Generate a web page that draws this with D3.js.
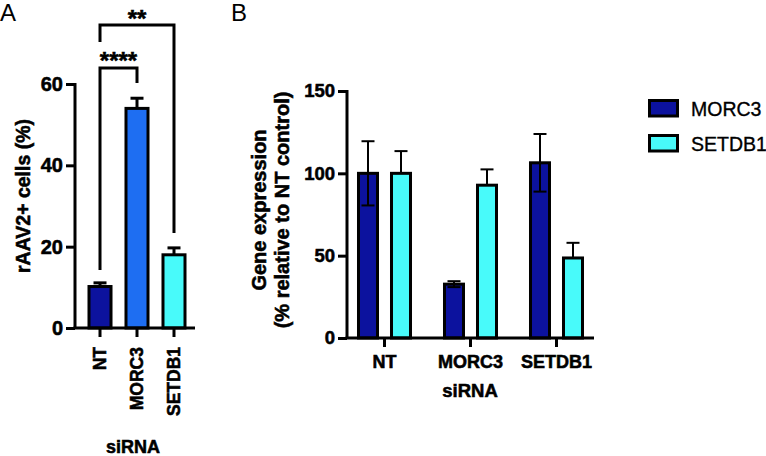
<!DOCTYPE html>
<html><head><meta charset="utf-8">
<script src="https://cdn.jsdelivr.net/npm/d3@7"></script>
<style>
body{margin:0;background:#fff}
text{font-family:"Liberation Sans",Arial,Helvetica,sans-serif;fill:#000}
.heavy{font-weight:bold;stroke:#000;stroke-width:0.55px;paint-order:stroke}
</style>
</head><body><svg id="c" width="766" height="456"></svg>
<script>
// ---- Panel A data ----
const aCategories = ["NT", "MORC3", "SETDB1"];
const aValues = [10.2, 54.0, 18.0];
const aErrors = [0.9, 2.5, 1.7];
const aColors = ["#0c129e", "#1e6ef2", "#48fafa"];
const aTicks = [0, 20, 40, 60];
const significance = [
  {from: "NT", to: "MORC3", label: "****"},
  {from: "NT", to: "SETDB1", label: "**"}
];
// ---- Panel B data ----
const bGroups = ["NT", "MORC3", "SETDB1"];
const bSeries = ["MORC3", "SETDB1"];
const bMORC3 = [100, 32.7, 106.4];
const bMORC3Err = [19.5, 1.8, 17.5];
const bSETDB1 = [100, 92.8, 48.6];
const bSETDB1Err = [13.5, 9.6, 9.2];
const bColors = ["#0c129e", "#48fafa"];
const bTicks = [0, 50, 100, 150];

const svg = d3.select("#c");
const FONT = '"Liberation Sans",Arial,Helvetica,sans-serif';

// ================= Panel A =================
const gA = svg.append("g");
const yA = d3.scaleLinear().domain([0, 60]).range([328, 84]);
const xA = d3.scaleBand().domain(aCategories).range([81.5, 192.5]).paddingInner(0.405).paddingOuter(0.2027);

gA.append("text").attr("x", 0).attr("y", 21).style("font-size", "24px").text("A");

aCategories.forEach((c, i) => {
  const cx = xA(c) + xA.bandwidth() / 2;
  gA.append("line").attr("x1", cx).attr("x2", cx).attr("y1", yA(aValues[i])).attr("y2", yA(aValues[i] + aErrors[i]))
    .attr("stroke", "#000").attr("stroke-width", 3);
  gA.append("line").attr("x1", cx - 6.5).attr("x2", cx + 6.5).attr("y1", yA(aValues[i] + aErrors[i])).attr("y2", yA(aValues[i] + aErrors[i]))
    .attr("stroke", "#000").attr("stroke-width", 3);
});
gA.selectAll("rect.bar").data(aCategories).join("rect").attr("class", "bar")
  .attr("x", d => xA(d)).attr("width", xA.bandwidth())
  .attr("y", (d, i) => yA(aValues[i])).attr("height", (d, i) => yA(0) - yA(aValues[i]))
  .attr("fill", (d, i) => aColors[i]).attr("stroke", "#000").attr("stroke-width", 3);

const axA = gA.append("g").attr("transform", "translate(75,0)")
  .call(d3.axisLeft(yA).tickValues(aTicks).tickSize(9).tickSizeOuter(0).tickPadding(3));
axA.selectAll("path,line").attr("stroke", "#000").attr("stroke-width", 3);
axA.select(".domain").attr("d", `M0,${yA(60)-1}V${yA(0)}`);
axA.selectAll("text").attr("class", "heavy").style("font-size", "20px").style("font-family", FONT).attr("fill", "#000");

const axAx = gA.append("g").attr("transform", `translate(0,${yA(0)})`)
  .call(d3.axisBottom(xA).tickSize(9).tickSizeOuter(0).tickFormat(""));
axAx.selectAll("path,line").attr("stroke", "#000").attr("stroke-width", 3);
axAx.select(".domain").attr("d", "M73.5,0H195");
aCategories.forEach(c => {
  gA.append("text").attr("class", "heavy").attr("transform", `translate(${xA(c) + xA.bandwidth() / 2},347) rotate(-90)`)
    .attr("text-anchor", "end").attr("dy", "0.36em")
    .style("font-size", "17.5px").text(c);
});
gA.append("text").attr("class", "heavy").attr("x", 133).attr("y", 453).attr("text-anchor", "middle")
  .style("font-size", "18px").text("siRNA");
gA.append("text").attr("class", "heavy").attr("transform", "translate(30,196) rotate(-90)").attr("text-anchor", "middle")
  .style("font-size", "19.5px").text("rAAV2+ cells (%)");

const brackets = [
  {y: 68, leftEnd: 270, rightEnd: 83, sy: 69},
  {y: 25, leftEnd: 42, rightEnd: 233, sy: 27}
];
significance.forEach((s, i) => {
  const b = brackets[i];
  const x1 = xA(s.from) + xA.bandwidth() / 2, x2 = xA(s.to) + xA.bandwidth() / 2;
  gA.append("path").attr("d", `M${x1},${b.leftEnd}V${b.y}H${x2}V${b.rightEnd}`)
    .attr("fill", "none").attr("stroke", "#000").attr("stroke-width", 3);
  gA.append("text").attr("class", "heavy").attr("x", (x1 + x2) / 2).attr("y", b.sy).attr("text-anchor", "middle")
    .style("font-size", "24px").text(s.label);
});

// ================= Panel B =================
const gB = svg.append("g");
const yB = d3.scaleLinear().domain([0, 150]).range([338, 91]);
const x0 = d3.scaleBand().domain(bGroups).range([341.5, 599.5]).padding(0);
const x1 = d3.scaleBand().domain(bSeries).range([0, x0.bandwidth()]).paddingInner(0.424).paddingOuter(0.515);

gB.append("text").attr("x", 231).attr("y", 21).style("font-size", "24px").text("B");

const bVals = [bMORC3, bSETDB1];
const bErrs = [bMORC3Err, bSETDB1Err];
const rows = [];
bGroups.forEach((g, gi) => bSeries.forEach((s, si) => rows.push({g, s, si, v: bVals[si][gi], e: bErrs[si][gi]})));
const cxB = d => x0(d.g) + x1(d.s) + x1.bandwidth() / 2;

rows.forEach(d => {
  const c = cxB(d);
  gB.append("line").attr("x1", c).attr("x2", c).attr("y1", yB(d.v)).attr("y2", yB(d.v + d.e)).attr("stroke", "#000").attr("stroke-width", 2);
  gB.append("line").attr("x1", c - 6.5).attr("x2", c + 6.5).attr("y1", yB(d.v + d.e)).attr("y2", yB(d.v + d.e)).attr("stroke", "#000").attr("stroke-width", 2);
});
gB.selectAll("rect.bar").data(rows).join("rect").attr("class", "bar")
  .attr("x", d => x0(d.g) + x1(d.s)).attr("width", x1.bandwidth())
  .attr("y", d => yB(d.v)).attr("height", d => yB(0) - yB(d.v))
  .attr("fill", d => bColors[d.si]).attr("stroke", "#000").attr("stroke-width", 3);
rows.filter(d => d.si === 0).forEach(d => {
  const c = cxB(d);
  gB.append("line").attr("x1", c).attr("x2", c).attr("y1", yB(d.v)).attr("y2", yB(d.v - d.e)).attr("stroke", "#000").attr("stroke-width", 2);
  gB.append("line").attr("x1", c - 6.5).attr("x2", c + 6.5).attr("y1", yB(d.v - d.e)).attr("y2", yB(d.v - d.e)).attr("stroke", "#000").attr("stroke-width", 2);
});

const axB = gB.append("g").attr("transform", "translate(347,0)")
  .call(d3.axisLeft(yB).tickValues(bTicks).tickSize(9).tickSizeOuter(0).tickPadding(3));
axB.selectAll("path,line").attr("stroke", "#000").attr("stroke-width", 3);
axB.select(".domain").attr("d", `M0,${yB(150)-1}V${yB(0)}`);
axB.selectAll("text").attr("class", "heavy").style("font-size", "18.5px").style("font-family", FONT).attr("fill", "#000");

const axBx = gB.append("g").attr("transform", `translate(0,${yB(0)})`)
  .call(d3.axisBottom(x0).tickSize(9).tickSizeOuter(0).tickPadding(8));
axBx.selectAll("path,line").attr("stroke", "#000").attr("stroke-width", 3);
axBx.select(".domain").attr("d", "M345.5,0H594");
axBx.selectAll("text").attr("class", "heavy").style("font-size", "18px").style("font-family", FONT).attr("fill", "#000");

gB.append("text").attr("class", "heavy").attr("x", 470).attr("y", 397).attr("text-anchor", "middle")
  .style("font-size", "18.5px").text("siRNA");
const tB = gB.append("text").attr("class", "heavy").attr("transform", "translate(266,210) rotate(-90)").attr("text-anchor", "middle")
  .style("font-size", "20px");
tB.append("tspan").attr("x", 0).attr("dy", 0).text("Gene expression");
tB.append("tspan").attr("x", 0).attr("dy", 23).text("(% relative to NT control)");

bSeries.forEach((s, i) => {
  const ly = 100.5 + i * 35;
  gB.append("rect").attr("x", 649.5).attr("y", ly).attr("width", 28).attr("height", 15.5)
    .attr("fill", bColors[i]).attr("stroke", "#000").attr("stroke-width", 3);
  gB.append("text").attr("x", 691).attr("y", ly + 15).style("font-size", "19.5px")
    .style("stroke", "#000").style("stroke-width", "0.35px").text(s);
});
</script></body></html>
